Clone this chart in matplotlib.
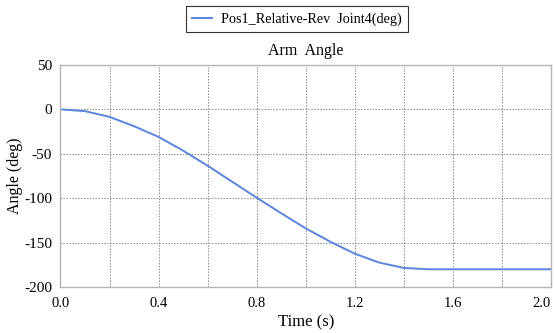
import numpy as np
import matplotlib
matplotlib.use("Agg")
import matplotlib.pyplot as plt
from matplotlib.ticker import MultipleLocator

# --- data ---
time_s = [0.0, 0.1, 0.2, 0.3, 0.4, 0.5, 0.6, 0.7, 0.8, 0.9, 1.0,
          1.1, 1.2, 1.3, 1.4, 1.5, 1.6, 1.7, 1.8, 1.9, 2.0]
angle_deg = [0.0, -2.0, -8.5, -19.0, -31.0, -46.5, -63.5, -81.5, -99.5, -117.0, -134.0,
             -149.0, -162.5, -172.5, -178.5, -180.0, -180.0, -180.0, -180.0, -180.0, -180.0]
series_label = "Pos1_Relative-Rev  Joint4(deg)"
x_ticks = [0.0, 0.4, 0.8, 1.2, 1.6, 2.0]
y_ticks = [50, 0, -50, -100, -150, -200]

plt.rcParams.update({
    "font.family": "Liberation Serif",
    "font.size": 10,
    "axes.unicode_minus": False,
})

fig = plt.figure(figsize=(5.55, 3.33), dpi=100)
ax = fig.add_axes([0.109, 0.138, 0.884, 0.667])

line, = ax.plot(time_s, angle_deg, color="#5b84dc", linewidth=1.4, label=series_label)

ax.set_xlim(0, 2.0)
ax.set_ylim(-200, 50)
ax.set_xticks(x_ticks)
ax.set_xticklabels([f"{t:.1f}" for t in x_ticks])
ax.xaxis.set_minor_locator(MultipleLocator(0.2))
ax.set_yticks(y_ticks)
ax.tick_params(which="both", length=0, labelsize=10.5)
ax.tick_params(axis="y", pad=6, labelsize=11)
ax.tick_params(axis="x", pad=7)
# last x label sits flush with the right edge, as in the reference
ax.get_xticklabels()[-1].set_horizontalalignment("right")

ax.grid(which="both", axis="x", color="#8a8a8a", linestyle=(0, (1.5, 1.5)), linewidth=0.7)
ax.grid(which="major", axis="y", color="#8a8a8a", linestyle=(0, (1.5, 1.5)), linewidth=0.7)

for s in ax.spines.values():
    s.set_color("#b4b4b4")
    s.set_linewidth(1.0)

ax.set_title("Arm  Angle", fontsize=11.5, pad=7)
ax.set_xlabel("Time (s)", fontsize=12, labelpad=3)
ax.set_ylabel("Angle (deg)", fontsize=11.5, labelpad=1)

leg = fig.legend(handles=[line], loc="upper center", bbox_to_anchor=(0.535, 0.982),
                 borderaxespad=0, frameon=True, fancybox=False, fontsize=10.2,
                 handlelength=1.4, borderpad=0.45, handletextpad=0.6)
leg.get_frame().set_edgecolor("black")
leg.get_frame().set_linewidth(0.8)

fig.savefig("out.png", dpi=100)
